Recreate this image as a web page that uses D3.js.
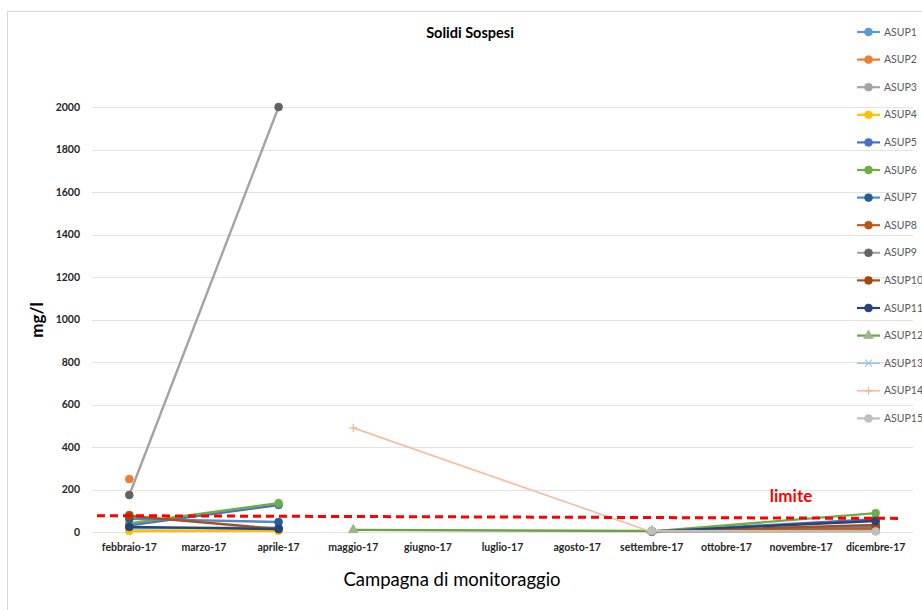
<!DOCTYPE html>
<html>
<head>
<meta charset="utf-8">
<script src="https://cdn.jsdelivr.net/npm/d3@7"></script>
<style>
  html, body { margin: 0; padding: 0; background: #fff; }
  svg { display: block; font-family: Lato, "Open Sans", sans-serif; }
</style>
</head>
<body>
<svg id="chart" width="922" height="610"></svg>
<script>
// Campaign months shown on the category axis
const months = ["febbraio-17", "marzo-17", "aprile-17", "maggio-17", "giugno-17", "luglio-17",
  "agosto-17", "settembre-17", "ottobre-17", "novembre-17", "dicembre-17"];

// Months in which samples were actually taken (rows of the data table)
const sampleMonths = ["febbraio-17", "aprile-17", "maggio-17", "settembre-17", "dicembre-17"];

// Sampling points
const stations = ["ASUP1", "ASUP2", "ASUP3", "ASUP4", "ASUP5", "ASUP6", "ASUP7", "ASUP8",
  "ASUP9", "ASUP10", "ASUP11", "ASUP12", "ASUP13", "ASUP14", "ASUP15"];

// Suspended solids (mg/l) per station, one value per sampling month (null = not sampled)
const asup1  = [18, 20, null, 3, 24];
const asup2  = [249, null, null, 2, 10];
const asup3  = [null, null, null, 2, 6];
const asup4  = [5, 6, null, 2, 4];
const asup5  = [32, 127, null, 3, 60];
const asup6  = [40, 136, null, 3, 89];
const asup7  = [62, 47, null, 3, 20];
const asup8  = [80, null, null, 3, 15];
const asup9  = [174, 2000, null, 2, 5];
const asup10 = [75, 14, null, 3, 33];
const asup11 = [24, 14, null, 3, 52];
const asup12 = [null, null, 10, 5, null];
const asup13 = [null, null, null, 3, null];
const asup14 = [null, null, 490, 0, null];
const asup15 = [null, null, null, 5, 3];

// Y axis ticks
const yTicks = [0, 200, 400, 600, 800, 1000, 1200, 1400, 1600, 1800, 2000];

// Limit reference line (start and end value, as drawn)
const limitLine = [77, 64];
const limitLabel = "limite";

const seriesValues = [asup1, asup2, asup3, asup4, asup5, asup6, asup7, asup8,
  asup9, asup10, asup11, asup12, asup13, asup14, asup15];

// Line and marker styling per station
const lineColors = ["#5B9BD5", "#ED7D31", "#A5A5A5", "#FFC000", "#4472C4", "#70AD47",
  "#4a8ccc", "#C55A11", "#a3a3a3", "#a8501c", "#264478", "#6aa446", "#9DC3E6", "#F6BCA0", "#BFBFBF"];
const markerColors = ["#5B9BD5", "#ED7D31", "#A5A5A5", "#FFC000", "#4472C4", "#70AD47",
  "#255E91", "#B5561A", "#636363", "#9E480E", "#264478", "#9bb58a", "#9DC3E6", "#F4B183", "#BFBFBF"];
const markerShapes = ["circle", "circle", "circle", "circle", "circle", "circle", "circle", "circle",
  "circle", "circle", "circle", "triangle", "cross-x", "plus", "circle"];

const svg = d3.select("#chart");

// Chart area frame
svg.append("rect")
  .attr("x", 7.5).attr("y", 11.5)
  .attr("width", 930).attr("height", 620)
  .attr("fill", "#fff").attr("stroke", "#d9d9d9").attr("stroke-width", 1);

const plot = { left: 92, right: 913, top: 107, bottom: 532 };

const x = d3.scaleBand().domain(months).range([plot.left, plot.right]);
const xc = m => x(m) + x.bandwidth() / 2;
const y = d3.scaleLinear().domain([0, 2000]).range([plot.bottom, plot.top]);

// Horizontal gridlines
svg.append("g").selectAll("line").data(yTicks).join("line")
  .attr("x1", plot.left).attr("x2", plot.right)
  .attr("y1", d => Math.round(y(d)) + 0.5).attr("y2", d => Math.round(y(d)) + 0.5)
  .attr("stroke", "#e3e3e3").attr("stroke-width", 1);

// Y axis labels
const yAxis = svg.append("g").attr("transform", `translate(${plot.left - 12},0)`)
  .call(d3.axisLeft(y).tickValues(yTicks).tickSize(0).tickPadding(0).tickFormat(d3.format("d")));
yAxis.select(".domain").remove();
yAxis.selectAll("text")
  .attr("font-family", "Lato, 'Open Sans', sans-serif")
  .attr("font-size", 10.5).attr("font-weight", "bold").attr("fill", "#262626");

// X axis labels
const xAxis = svg.append("g").attr("transform", `translate(0,${plot.bottom})`)
  .call(d3.axisBottom(x).tickSize(0).tickPadding(12));
xAxis.select(".domain").remove();
xAxis.selectAll("text")
  .attr("font-family", "Lato, 'Open Sans', sans-serif")
  .attr("font-size", 10.5).attr("font-weight", "bold").attr("fill", "#262626");

// Titles
svg.append("text").attr("x", 470).attr("y", 38).attr("text-anchor", "middle")
  .attr("font-size", 14.5).attr("font-weight", "bold").attr("fill", "#000")
  .text("Solidi Sospesi");

svg.append("text").attr("transform", "translate(43,320) rotate(-90)")
  .attr("text-anchor", "middle")
  .attr("font-size", 17).attr("font-weight", "bold").attr("fill", "#000")
  .text("mg/l");

svg.append("text").attr("x", 452).attr("y", 586).attr("text-anchor", "middle")
  .attr("font-size", 18.5).attr("fill", "#000")
  .text("Campagna di monitoraggio");

// Marker shapes
const symbolFor = shape => {
  if (shape === "triangle") return d3.symbol(d3.symbolTriangle, 40)();
  if (shape === "cross-x") return "M-3.5,-3.5L3.5,3.5M-3.5,3.5L3.5,-3.5";
  if (shape === "plus") return "M-4,0H4M0,-4V4";
  return d3.symbol(d3.symbolCircle, 48)();
};

const line = d3.line()
  .defined(d => d.v !== null)
  .x(d => xc(d.m)).y(d => y(d.v));

// Series lines and markers
const seriesG = svg.append("g");
stations.forEach((name, i) => {
  const pts = sampleMonths.map((m, j) => ({ m, v: seriesValues[i][j] }));
  const shape = markerShapes[i];
  const open = shape === "cross-x" || shape === "plus";
  seriesG.append("path").datum(pts)
    .attr("d", line)
    .attr("fill", "none")
    .attr("stroke", lineColors[i])
    .attr("stroke-width", open ? 1.6 : 2.4)
    .attr("stroke-linejoin", "round");
  seriesG.append("g").selectAll("path").data(pts.filter(d => d.v !== null)).join("path")
    .attr("transform", d => `translate(${xc(d.m)},${y(d.v)})`)
    .attr("d", symbolFor(shape))
    .attr("fill", open ? "none" : markerColors[i])
    .attr("stroke", markerColors[i])
    .attr("stroke-width", open ? 1.1 : 0.8);
});

// Limit reference line
svg.append("line")
  .attr("x1", plot.left + 5).attr("x2", plot.right - 10)
  .attr("y1", y(limitLine[0])).attr("y2", y(limitLine[1]))
  .attr("stroke", "#ff0000").attr("stroke-width", 3)
  .attr("stroke-dasharray", "8,5");

svg.append("text").attr("x", 791).attr("y", 502).attr("text-anchor", "middle")
  .attr("font-size", 17).attr("font-weight", "bold").attr("fill", "#ff0000")
  .text(limitLabel);

// Legend
const legend = svg.append("g");
stations.forEach((name, i) => {
  const ly = 32 + i * 27.6;
  const shape = markerShapes[i];
  const open = shape === "cross-x" || shape === "plus";
  const g = legend.append("g").attr("transform", `translate(857,${ly})`);
  g.append("line").attr("x1", 0).attr("x2", 23).attr("y1", 0).attr("y2", 0)
    .attr("stroke", lineColors[i]).attr("stroke-width", open ? 1.6 : 2.2);
  g.append("path").attr("transform", "translate(11.5,0)")
    .attr("d", symbolFor(shape))
    .attr("fill", open ? "none" : markerColors[i])
    .attr("stroke", markerColors[i]).attr("stroke-width", open ? 1.1 : 0.8);
  g.append("text").attr("x", 27).attr("y", 3.5)
    .attr("font-size", 10.5).attr("fill", "#595959")
    .text(name);
});
</script>
</body>
</html>
